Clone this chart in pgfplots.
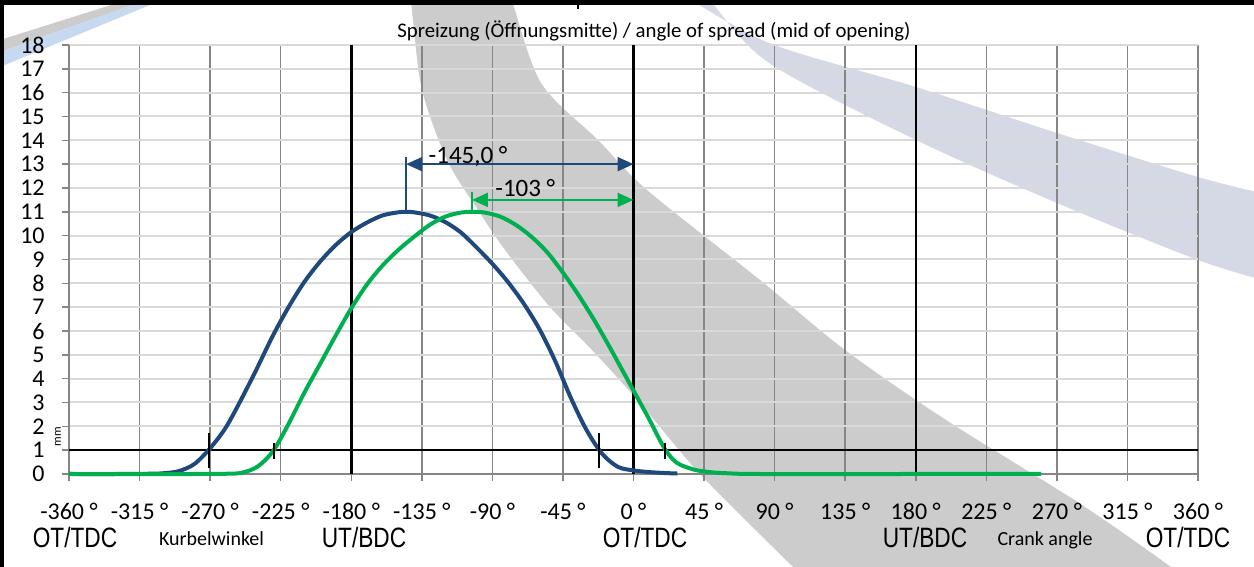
\documentclass[border=0pt]{standalone}
\usepackage{fontspec}
\setmainfont{Carlito}
\newfontfamily\arial{Liberation Sans}
\usepackage{graphicx}
\usepackage{pgfplots}
\usepackage{pgfplotstable}
\pgfplotsset{compat=1.18}
\usetikzlibrary{arrows.meta}

\definecolor{cblue}{RGB}{31,73,125}
\definecolor{cgreen}{RGB}{0,176,80}
\definecolor{vgrid}{RGB}{134,134,134}
\definecolor{hgrid}{RGB}{217,217,217}
\definecolor{bandgrey}{RGB}{204,204,204}
\definecolor{bandblue}{RGB}{212,217,229}
\definecolor{stripeblue}{RGB}{198,217,241}

% valve lift over crank angle (deg, mm)
\pgfplotstableread{
deg   mm
-360  0
-330  0
-310  0.01
-300  0.03
-290  0.12
-280  0.42
-270  1.08
-260  1.95
-250  3.15
-240  4.45
-230  5.8
-220  7.0
-210  8.05
-200  8.9
-190  9.6
-180  10.15
-170  10.55
-160  10.85
-150  10.98
-145  11.0
-140  10.98
-130  10.85
-120  10.57
-110  10.13
-100  9.5
-90   8.82
-80   8.05
-70   7.15
-60   6.08
-50   4.75
-40   3.2
-30   1.85
-20   0.85
-10   0.3
0     0.15
10    0.08
20    0.04
28    0.02
}\liftA

\pgfplotstableread{
deg   mm
-360  0
-280  0
-260  0.01
-250  0.05
-240  0.3
-230  0.95
-220  2.1
-210  3.4
-200  4.6
-190  5.8
-180  6.95
-170  7.95
-160  8.75
-150  9.4
-140  9.95
-130  10.45
-120  10.8
-110  10.97
-103  11.0
-95   10.97
-85   10.8
-75   10.45
-65   9.95
-55   9.3
-45   8.45
-35   7.5
-25   6.45
-15   5.3
-5    4.1
0     3.5
5     2.9
10    2.3
15    1.65
20    1.05
25    0.62
30    0.38
40    0.16
50    0.07
60    0.03
80    0
180   0
260   0
}\liftB

\begin{document}
\begin{tikzpicture}
\path[use as bounding box] (0,0) rectangle (627pt,283.5pt);

% overlay bands of the screenshot
\fill[bandgrey] plot[smooth] coordinates {(205pt,288.5pt) (206.5pt,273.5pt) (211pt,238.5pt) (223.5pt,203.5pt) (239pt,178.5pt) (252.5pt,158.5pt) (275pt,130pt) (296pt,108.5pt) (320pt,82pt) (350pt,46.5pt) (396.5pt,0pt) (403pt,-6.5pt)}
  -- plot[smooth] coordinates {(592.5pt,-6.5pt) (585.5pt,0pt) (539.5pt,32pt) (473pt,73.5pt) (422.5pt,108.5pt) (380pt,143.5pt) (323.5pt,188.5pt) (299pt,213.5pt) (270.5pt,242pt) (256pt,283.5pt) (255pt,288.5pt)} -- cycle;
\fill[bandblue] plot[smooth] coordinates {(339.5pt,287.5pt) (384.5pt,262pt) (458pt,240pt) (528.5pt,217pt) (599pt,195pt) (635pt,186pt)}
  -- plot[smooth] coordinates {(635pt,142.5pt) (599pt,153.5pt) (528.5pt,182pt) (458pt,213.5pt) (384.5pt,252pt) (355pt,283.5pt) (352.5pt,287.5pt)} -- cycle;
\fill[bandgrey] (0pt,263.5pt) -- (63.5pt,283.5pt) -- (73.5pt,283.5pt) -- (0pt,257.5pt) -- cycle;
\fill[stripeblue] (0pt,257.5pt) -- (73.5pt,283.5pt) -- (81pt,283.5pt) -- (0pt,250pt) -- cycle;

\begin{axis}[
  at={(34.5pt,46.5pt)}, anchor=south west,
  scale only axis, width=564.5pt, height=214.5pt,
  xmin=-360, xmax=360, ymin=0, ymax=18,
  axis lines=left,
  axis line style={-, draw=vgrid, line width=0.75pt},
  xtick={-360,-315,...,360},
  xticklabels={-360 °,-315 °,-270 °,-225 °,-180 °,-135 °,-90 °,-45 °,0 °,45 °,90 °,135 °,180 °,225 °,270 °,315 °,360 °},
  ytick={0,1,...,18},
  /pgf/number format/assume math mode=true,
  tick align=outside, major tick length=3.5pt,
  tick style={draw=vgrid, line width=0.75pt},
  xticklabel style={font=\fontsize{12}{14}\selectfont, anchor=base, inner sep=0pt, yshift=-19.5pt},
  yticklabel style={font=\fontsize{12}{14}\selectfont, anchor=east, inner sep=0pt, xshift=-8.5pt},
  grid=major,
  major x grid style={draw=vgrid, line width=0.75pt},
  major y grid style={draw=hgrid, line width=1pt},
  clip=false,
]
% TDC / BDC lines and 1 mm line
\addplot[black, line width=1.25pt] coordinates {(-180,0) (-180,18)};
\addplot[black, line width=1.25pt] coordinates {(0,0) (0,18)};
\addplot[black, line width=1.25pt] coordinates {(180,0) (180,18)};
\addplot[black, line width=1.2pt] coordinates {(-360,1) (360,1)};

\addplot[cblue, line width=2pt, smooth] table[x=deg, y=mm] {\liftA};
\addplot[cgreen, line width=2pt, smooth] table[x=deg, y=mm] {\liftB};

% 1 mm crossing marks
\addplot[black, line width=1pt] coordinates {(-271,0.25) (-271,1.7)};
\addplot[black, line width=1pt] coordinates {(-22,0.25) (-22,1.7)};
\addplot[black, line width=1pt] coordinates {(-229.5,0.65) (-229.5,1.3)};
\addplot[black, line width=1pt] coordinates {(20,0.65) (20,1.3)};

% spread annotations
\addplot[cblue, line width=1pt] coordinates {(-145,11) (-145,13.3)};
\draw[cblue, line width=1pt, {Triangle[length=8pt,width=7pt]}-{Triangle[length=8pt,width=7pt]}] (axis cs:-145,13) -- (axis cs:0,13);
\node[anchor=base, inner sep=0pt, font=\fontsize{12.5}{14}\selectfont] at (axis cs:-105.5,13.04) {-145,0 °};
\addplot[cgreen, line width=1pt] coordinates {(-103,11) (-103,11.85)};
\draw[cgreen, line width=1pt, {Triangle[length=8pt,width=7pt]}-{Triangle[length=8pt,width=7pt]}] (axis cs:-103,11.5) -- (axis cs:0,11.5);
\node[anchor=base, inner sep=0pt, font=\fontsize{12.5}{14}\selectfont] at (axis cs:-69,11.64) {-103 °};
\end{axis}

\node[font=\fontsize{10.4}{12}\selectfont] at (327pt,268pt) {Spreizung (Öffnungsmitte) / angle of spread (mid of opening)};
\node[font=\fontsize{6}{7}\selectfont, rotate=90, inner sep=0pt] at (29pt,65pt) {mm};

\node[anchor=base, inner sep=0pt, font=\fontsize{14}{16}\arial] at (37.5pt,9.5pt) {\scalebox{0.81}[1]{OT/TDC}};
\node[anchor=base, inner sep=0pt, font=\fontsize{10}{12}\selectfont] at (105.75pt,10.75pt) {Kurbelwinkel};
\node[anchor=base, inner sep=0pt, font=\fontsize{14}{16}\arial] at (182pt,9.5pt) {\scalebox{0.81}[1]{UT/BDC}};
\node[anchor=base, inner sep=0pt, font=\fontsize{14}{16}\arial] at (322.5pt,9.5pt) {\scalebox{0.81}[1]{OT/TDC}};
\node[anchor=base, inner sep=0pt, font=\fontsize{14}{16}\arial] at (462.5pt,9.5pt) {\scalebox{0.81}[1]{UT/BDC}};
\node[anchor=base, inner sep=0pt, font=\fontsize{10}{12}\selectfont] at (522.5pt,10.75pt) {Crank angle};
\node[anchor=base, inner sep=0pt, font=\fontsize{14}{16}\arial] at (594pt,9.5pt) {\scalebox{0.81}[1]{OT/TDC}};

% screenshot frame
\fill[black] (0pt,281pt) rectangle (627pt,283.5pt);
\fill[black] (288.5pt,279pt) rectangle (289.5pt,283.5pt);
\fill[black] (0pt,0pt) rectangle (2pt,283.5pt);
\end{tikzpicture}
\end{document}
